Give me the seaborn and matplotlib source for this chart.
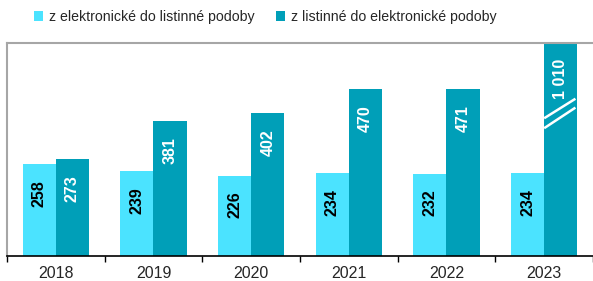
import pandas as pd
import matplotlib
matplotlib.use("Agg")
import matplotlib.pyplot as plt
import seaborn as sns
from matplotlib.patches import Patch

years = ['2018', '2019', '2020', '2021', '2022', '2023']
e_to_paper = [258, 239, 226, 234, 232, 234]
paper_to_e = [273, 381, 402, 470, 471, 1010]
series = ['z elektronické do listinné podoby', 'z listinné do elektronické podoby']
colors = ['#4be3ff', '#009fb8']
Y_MAX = 600

df = pd.DataFrame({
    'rok': years * 2,
    'pocet': e_to_paper + paper_to_e,
    'smer': [series[0]] * 6 + [series[1]] * 6,
})

sns.set_style('white')
plt.rcParams['font.family'] = ['Liberation Sans', 'DejaVu Sans']

fig = plt.figure(figsize=(5.93, 2.81), dpi=100)
ax = fig.add_axes([7 / 593, 25 / 281, 586 / 593, 213 / 281])

sns.barplot(data=df, x='rok', y='pocet', hue='smer', palette=colors,
            width=0.68, ax=ax, legend=False, saturation=1,
            edgecolor='none')

ax.set_ylim(0, Y_MAX)
ax.set_xlim(-0.5, 5.5)
ax.set_xlabel('')
ax.set_ylabel('')
ax.set_yticks([])

# spines
for s in ['left', 'top']:
    ax.spines[s].set_color('#a6a6a6')
    ax.spines[s].set_linewidth(1.5)
ax.spines['right'].set_visible(False)
ax.spines['bottom'].set_color('black')
ax.spines['bottom'].set_linewidth(1.2)

ax.set_xticks(range(len(years)))
ax.set_xticklabels(years, fontsize=11.5)
ax.tick_params(axis='x', which='major', length=0, pad=7)
ax.set_xticks([i - 0.5 for i in range(len(years) + 1)], minor=True)
ax.tick_params(axis='x', which='minor', length=4, width=1, color='black',
               direction='out', bottom=True)

# value labels
for ci, cont in enumerate(ax.containers):
    vals = e_to_paper if ci == 0 else paper_to_e
    col = 'black' if ci == 0 else 'white'
    for bar, v in zip(cont, vals):
        x = bar.get_x() + bar.get_width() / 2
        top = min(v, Y_MAX)
        txt = f'{v:,}'.replace(',', ' ')
        ax.annotate(txt, xy=(x, top), xytext=(0, -11.5), textcoords='offset points',
                    rotation=90, ha='center', va='top', fontsize=11.5,
                    fontweight='bold', color=col)

# break marks on the clipped bar
big = ax.containers[1][-1]
bx0 = big.get_x()
bx1 = bx0 + big.get_width()
for y0, y1 in [(388, 443), (360, 418)]:
    ax.plot([bx0, bx1 - 0.02], [y0, y1], color='white', lw=1.8,
            solid_capstyle='butt', zorder=5)

handles = [Patch(facecolor=c, edgecolor='none') for c in colors]
fig.legend(handles, series, loc='upper center', bbox_to_anchor=(0.447, 1.01),
           ncol=2, frameon=False, fontsize=10.2, handlelength=0.65,
           handleheight=0.65, handletextpad=0.4, columnspacing=1.5)

fig.savefig('out.png', dpi=100)
